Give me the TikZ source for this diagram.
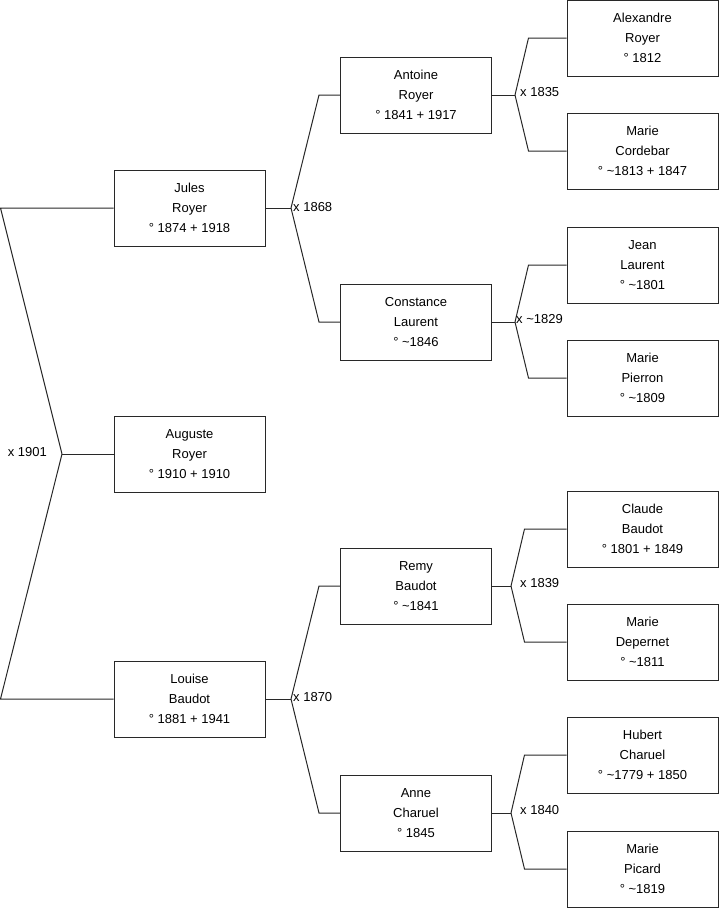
\documentclass[tikz,border=0pt]{standalone}
\usepackage{fontspec}
\setmainfont{Liberation Sans}

\definecolor{treeline}{RGB}{40, 40, 40}
\definecolor{treetext}{RGB}{0, 0, 0}

\begin{document}
\begin{tikzpicture}[
  x=1pt,
  y=-1pt,
  person/.style={draw=treeline, line width=1pt, minimum width=151pt, minimum height=76pt, inner sep=0pt, align=center, font=\fontsize{13}{20}\selectfont, text=treetext},
  link/.style={draw=treeline, line width=1pt},
  union/.style={font=\fontsize{13}{15}\selectfont, text=treetext, anchor=west, inner sep=0pt}
]
  \useasboundingbox (0,0) rectangle (719,908);

  % Child
  \node[person] (auguste) at (189.5, 454) {Auguste\\Royer\\° 1910 + 1910};

  % Parents
  \node[person] (jules) at (189.5, 208) {Jules\\Royer\\° 1874 + 1918};
  \node[person] (louise) at (189.5, 699) {Louise\\Baudot\\° 1881 + 1941};

  % Grandparents
  \node[person] (antoine) at (416, 95) {Antoine\\Royer\\° 1841 + 1917};
  \node[person] (constance) at (416, 322) {Constance\\Laurent\\° \textasciitilde1846};
  \node[person] (remy) at (416, 586) {Remy\\Baudot\\° \textasciitilde1841};
  \node[person] (anne) at (416, 813) {Anne\\Charuel\\° 1845};

  % Great-grandparents
  \node[person] (alexandre) at (642.5, 38) {Alexandre\\Royer\\° 1812};
  \node[person] (mcordebar) at (642.5, 151) {Marie\\Cordebar\\° \textasciitilde1813 + 1847};
  \node[person] (jean) at (642.5, 265) {Jean\\Laurent\\° \textasciitilde1801};
  \node[person] (mpierron) at (642.5, 378) {Marie\\Pierron\\° \textasciitilde1809};
  \node[person] (claude) at (642.5, 529) {Claude\\Baudot\\° 1801 + 1849};
  \node[person] (mdepernet) at (642.5, 642) {Marie\\Depernet\\° \textasciitilde1811};
  \node[person] (hubert) at (642.5, 755) {Hubert\\Charuel\\° \textasciitilde1779 + 1850};
  \node[person] (mpicard) at (642.5, 869) {Marie\\Picard\\° \textasciitilde1819};

  % Marriage points
  \coordinate (c1901) at (62, 454);
  \coordinate (c1868) at (291, 208);
  \coordinate (c1870) at (291, 699);
  \coordinate (c1835) at (515, 95);
  \coordinate (c1829) at (515, 322);
  \coordinate (c1839) at (511, 586);
  \coordinate (c1840) at (511, 813);

  % Links, first generation
  \draw[link] (auguste.west) -- (c1901);
  \draw[link] (jules.west) -- ++(-113,0) -- (c1901);
  \draw[link] (louise.west) -- ++(-113,0) -- (c1901);

  % Links, second generation
  \draw[link] (jules.east) -- (c1868);
  \draw[link] (antoine.west) -- ++(-21,0) -- (c1868);
  \draw[link] (constance.west) -- ++(-21,0) -- (c1868);
  \draw[link] (louise.east) -- (c1870);
  \draw[link] (remy.west) -- ++(-21,0) -- (c1870);
  \draw[link] (anne.west) -- ++(-21,0) -- (c1870);

  % Links, third generation
  \draw[link] (antoine.east) -- (c1835);
  \draw[link] (alexandre.west) -- ++(-38,0) -- (c1835);
  \draw[link] (mcordebar.west) -- ++(-38,0) -- (c1835);
  \draw[link] (constance.east) -- (c1829);
  \draw[link] (jean.west) -- ++(-38,0) -- (c1829);
  \draw[link] (mpierron.west) -- ++(-38,0) -- (c1829);
  \draw[link] (remy.east) -- (c1839);
  \draw[link] (claude.west) -- ++(-42,0) -- (c1839);
  \draw[link] (mdepernet.west) -- ++(-42,0) -- (c1839);
  \draw[link] (anne.east) -- (c1840);
  \draw[link] (hubert.west) -- ++(-42,0) -- (c1840);
  \draw[link] (mpicard.west) -- ++(-42,0) -- (c1840);

  % Marriage labels
  \node[union, anchor=east] (u1901) at (47, 452) {x 1901};
  \node[union] (u1868) at (293, 207) {x 1868};
  \node[union] (u1870) at (293, 697) {x 1870};
  \node[union] (u1835) at (520, 92) {x 1835};
  \node[union] (u1829) at (516, 319) {x \textasciitilde1829};
  \node[union] (u1839) at (520, 583) {x 1839};
  \node[union] (u1840) at (520, 810) {x 1840};

\end{tikzpicture}
\end{document}
